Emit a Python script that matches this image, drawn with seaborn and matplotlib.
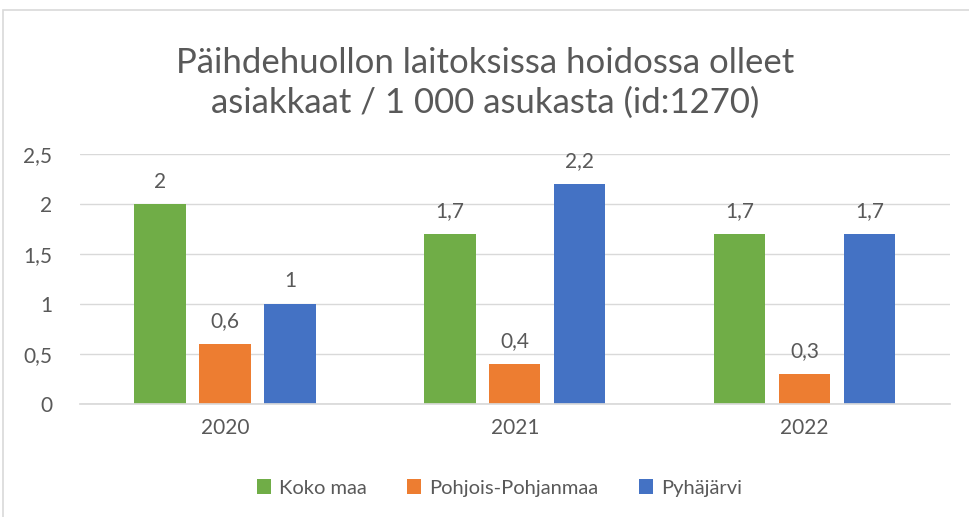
import pandas as pd
import seaborn as sns
import matplotlib.pyplot as plt
from matplotlib.patches import Rectangle

years = ["2020", "2021", "2022"]
koko_maa = [2.0, 1.7, 1.7]
pohjois_pohjanmaa = [0.6, 0.4, 0.3]
pyhajarvi = [1.0, 2.2, 1.7]
series_names = ["Koko maa", "Pohjois-Pohjanmaa", "Pyhäjärvi"]
yticks = [0, 0.5, 1, 1.5, 2, 2.5]

title = "Päihdehuollon laitoksissa hoidossa olleet\nasiakkaat / 1 000 asukasta (id:1270)"
colors = ["#70AD47", "#ED7D31", "#4472C4"]
text_col = "#595959"


def fi(v):
    return f"{v:g}".replace(".", ",")


df = pd.DataFrame({
    "year": years * 3,
    "value": koko_maa + pohjois_pohjanmaa + pyhajarvi,
    "series": [s for s in series_names for _ in years],
})

sns.set_theme(style="white")
plt.rcParams["font.family"] = ["Lato", "DejaVu Sans"]

fig = plt.figure(figsize=(9.7, 5.17), dpi=100)
ax = fig.add_axes([0.0825, 0.2186, 0.8965, 0.4835])

sns.barplot(data=df, x="year", y="value", hue="series", palette=colors,
            width=0.672, gap=0.21, ax=ax, legend=True, saturation=1, linewidth=0)

for c in ax.containers:
    ax.bar_label(c, labels=[fi(b.get_height()) for b in c], padding=9,
                 fontsize=15, color=text_col)

ax.set_ylim(0, 2.5)
ax.set_yticks(yticks)
ax.set_yticklabels([fi(t) for t in yticks])
ax.yaxis.grid(True, color="#D9D9D9", lw=1)
ax.set_axisbelow(True)
ax.set_xlim(-0.5, 2.5)
ax.set_xlabel("")
ax.set_ylabel("")
for s in ["top", "right", "left"]:
    ax.spines[s].set_visible(False)
ax.spines["bottom"].set_color("#D9D9D9")
ax.tick_params(axis="y", labelsize=15, colors=text_col, length=0, pad=20)
ax.tick_params(axis="x", labelsize=15, colors=text_col, length=0, pad=10)

fig.text(0.5, 0.84, title, ha="center", va="center", fontsize=25,
         color=text_col, linespacing=1.3)

ax.legend(loc="center", bbox_to_anchor=(0.515, 0.056), bbox_transform=fig.transFigure,
          ncol=3, frameon=False, fontsize=14.5, labelcolor=text_col,
          handlelength=0.7, handleheight=0.7, columnspacing=2.0, handletextpad=0.4)

fig.patches.append(Rectangle((0.003, -0.1), 1.2, 1.08, transform=fig.transFigure,
                             fill=False, edgecolor="#D9D9D9", lw=1.2))

fig.savefig("out.png", dpi=100)
